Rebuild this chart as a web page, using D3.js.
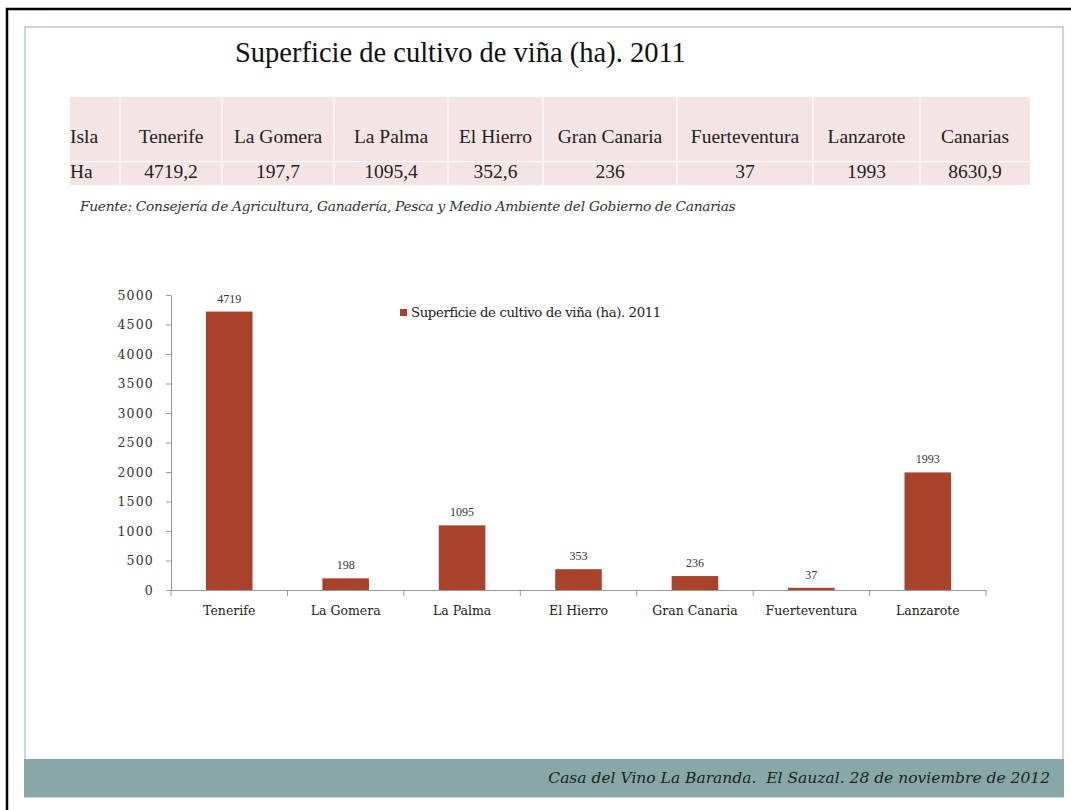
<!DOCTYPE html>
<html><head><meta charset="utf-8">
<script src="https://cdnjs.cloudflare.com/ajax/libs/d3/7.8.5/d3.min.js"></script>
<style>body{margin:0;background:#fff}svg{display:block}</style>
</head><body><svg id="c" width="1071" height="810"></svg>
<script>
const title = "Superficie de cultivo de viña (ha). 2011";
const tableHeader = ["Isla","Tenerife","La Gomera","La Palma","El Hierro","Gran Canaria","Fuerteventura","Lanzarote","Canarias"];
const tableValues = ["Ha","4719,2","197,7","1095,4","352,6","236","37","1993","8630,9"];
const categories = ["Tenerife","La Gomera","La Palma","El Hierro","Gran Canaria","Fuerteventura","Lanzarote"];
const values = [4719.2,197.7,1095.4,352.6,236,37,1993];
const yTicks = [0,500,1000,1500,2000,2500,3000,3500,4000,4500,5000];
const source = "Fuente: Consejería de Agricultura, Ganadería, Pesca y Medio Ambiente del Gobierno de Canarias";
const footer = "Casa del Vino La Baranda.  El Sauzal. 28 de noviembre de 2012";

const svg = d3.select("#c");
svg.append("rect").attr("width",1071).attr("height",810).attr("fill","#fff");
// black frame
svg.append("path").attr("d","M7,810 L7,9 L1071,9").attr("fill","none").attr("stroke","#000").attr("stroke-width",2.5);
// slide border
svg.append("rect").attr("x",25).attr("y",27).attr("width",1038).attr("height",770)
  .attr("fill","#fff").attr("stroke","#c9d6d4").attr("stroke-width",2);
// footer band
svg.append("rect").attr("x",24).attr("y",759).attr("width",1040).attr("height",38).attr("fill","#87a8a7");
svg.append("text").attr("x",1050).attr("y",783).attr("text-anchor","end")
  .attr("font-family","DejaVu Serif").attr("font-style","italic").attr("font-size",15.5)
  .attr("fill","#222").style("white-space","pre").text(footer);

// title
svg.append("text").attr("x",235).attr("y",62).attr("font-family","Liberation Serif")
  .attr("font-size",28.5).attr("fill","#111").text(title);

// table
const colEdges = [70,120,222,334,448,543,677,813,920,1030];
const tg = svg.append("g");
tg.append("rect").attr("x",70).attr("y",97).attr("width",960).attr("height",64).attr("fill","#f5e4e4");
tg.append("rect").attr("x",70).attr("y",162).attr("width",960).attr("height",23).attr("fill","#f5e4e4");
colEdges.slice(1,-1).forEach(x=>{
  tg.append("line").attr("x1",x).attr("x2",x).attr("y1",97).attr("y2",185).attr("stroke","#fbf3f3").attr("stroke-width",2);
});
[tableHeader, tableValues].forEach((row,ri)=>{
  row.forEach((t,i)=>{
    const left = i===0;
    tg.append("text")
      .attr("x", left ? 70 : (colEdges[i]+colEdges[i+1])/2)
      .attr("y", ri===0 ? 143 : 178)
      .attr("text-anchor", left ? "start" : "middle")
      .attr("font-family","Liberation Serif").attr("font-size",19.5).attr("fill","#222").text(t);
  });
});
svg.append("text").attr("x",80).attr("y",211).attr("font-family","DejaVu Serif")
  .attr("font-style","italic").attr("font-size",13.8).attr("fill","#333")
  .attr("letter-spacing",-0.3).text(source);

// chart
const band = d3.scaleBand().domain(categories).range([171,986]);
const y = d3.scaleLinear().domain([0,5000]).range([590,295]);
const barColor = "#a8422b";

const yAxis = svg.append("g").attr("transform","translate(171,0)")
  .call(d3.axisLeft(y).tickValues(yTicks).tickFormat(d3.format("d")).tickSize(5).tickSizeOuter(0).tickPadding(12));
yAxis.select(".domain").attr("stroke","#999");
yAxis.selectAll(".tick line").attr("stroke","#999");
yAxis.selectAll("text").attr("font-family","DejaVu Serif").attr("font-size",12.5)
  .attr("letter-spacing",1.2).attr("fill","#333");

svg.selectAll("rect.bar").data(categories).join("rect").attr("class","bar")
  .attr("x",d=>band(d)+band.bandwidth()*0.3)
  .attr("width",band.bandwidth()*0.4)
  .attr("y",(d,i)=>y(values[i]))
  .attr("height",(d,i)=>y(0)-y(values[i]))
  .attr("fill",barColor);

const xAxis = svg.append("g").attr("transform","translate(0,590)")
  .call(d3.axisBottom(band).tickSize(0).tickPadding(16));
xAxis.select(".domain").attr("stroke","#999");
xAxis.selectAll("text").attr("font-family","DejaVu Serif").attr("font-size",12.5).attr("fill","#222");
// boundary ticks
const edges = categories.map(c=>band(c)).concat([band(categories[categories.length-1])+band.bandwidth()]);
svg.selectAll("line.edge").data(edges).join("line").attr("class","edge")
  .attr("x1",d=>d).attr("x2",d=>d).attr("y1",590).attr("y2",596).attr("stroke","#999");

svg.selectAll("text.lbl").data(categories).join("text").attr("class","lbl")
  .attr("x",d=>band(d)+band.bandwidth()/2)
  .attr("y",(d,i)=>y(values[i])-9)
  .attr("text-anchor","middle").attr("font-family","Liberation Serif").attr("font-size",12).attr("fill","#333")
  .text((d,i)=>Math.round(values[i]));

// legend
svg.append("rect").attr("x",400).attr("y",309).attr("width",7).attr("height",7).attr("fill",barColor);
svg.append("text").attr("x",411).attr("y",317).attr("font-family","DejaVu Serif")
  .attr("font-size",13.3).attr("letter-spacing",-0.4).attr("fill","#222").text(title);
</script></body></html>
